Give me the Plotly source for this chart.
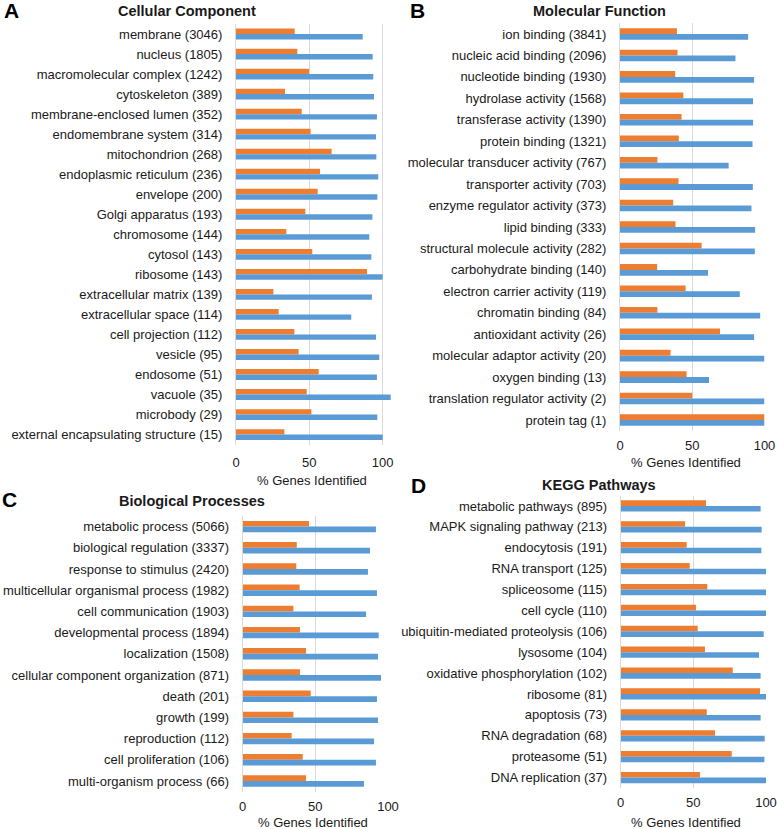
import plotly.graph_objects as go

W, H = 777, 829

# ---------------- data ----------------
cc_labels = ["membrane (3046)", "nucleus (1805)", "macromolecular complex (1242)", "cytoskeleton (389)",
             "membrane-enclosed lumen (352)", "endomembrane system (314)", "mitochondrion (268)",
             "endoplasmic reticulum (236)", "envelope (200)", "Golgi apparatus (193)", "chromosome (144)",
             "cytosol (143)", "ribosome (143)", "extracellular matrix (139)", "extracellular space (114)",
             "cell projection (112)", "vesicle (95)", "endosome (51)", "vacuole (35)", "microbody (29)",
             "external encapsulating structure (15)"]
cc_orange = [40.0, 41.8, 49.8, 33.4, 44.8, 50.9, 65.2, 57.3, 55.7, 47.3, 34.3,
             52.0, 89.3, 25.5, 29.1, 39.8, 42.7, 56.4, 48.2, 51.4, 33.0]
cc_blue = [86.4, 93.2, 93.6, 94.1, 96.1, 95.5, 95.7, 97.0, 96.4, 93.0, 90.9,
           92.3, 100.0, 92.7, 78.6, 95.5, 97.7, 96.1, 105.5, 96.4, 100.0]

mf_labels = ["ion binding (3841)", "nucleic acid binding (2096)", "nucleotide binding (1930)",
             "hydrolase activity (1568)", "transferase activity (1390)", "protein binding (1321)",
             "molecular transducer activity (767)", "transporter activity (703)",
             "enzyme regulator activity (373)", "lipid binding (333)", "structural molecule activity (282)",
             "carbohydrate binding (140)", "electron carrier activity (119)", "chromatin binding (84)",
             "antioxidant activity (26)", "molecular adaptor activity (20)", "oxygen binding (13)",
             "translation regulator activity (2)", "protein tag (1)"]
mf_orange = [39.4, 39.8, 38.2, 43.8, 42.6, 40.7, 25.9, 40.5, 36.8, 38.4, 56.5,
             25.7, 45.4, 25.9, 69.2, 35.0, 46.1, 50.0, 100.0]
mf_blue = [88.7, 79.9, 92.8, 92.1, 92.1, 91.7, 75.2, 91.9, 91.0, 93.5, 93.3,
           60.9, 82.9, 97.0, 92.8, 100.0, 61.6, 100.0, 100.0]

bp_labels = ["metabolic process (5066)", "biological regulation (3337)", "response to stimulus (2420)",
             "multicellular organismal process (1982)", "cell communication (1903)",
             "developmental process (1894)", "localization (1508)",
             "cellular component organization (871)", "death (201)", "growth (199)",
             "reproduction (112)", "cell proliferation (106)", "multi-organism process (66)"]
bp_orange = [45.6, 37.2, 36.9, 39.2, 34.9, 39.4, 43.6, 39.4, 46.8, 34.9, 33.7, 41.3, 43.6]
bp_blue = [91.7, 87.6, 86.2, 92.4, 84.9, 93.6, 93.1, 95.2, 92.4, 93.1, 90.4, 91.7, 83.5]

kg_labels = ["metabolic pathways (895)", "MAPK signaling pathway (213)", "endocytosis (191)",
             "RNA transport (125)", "spliceosome (115)", "cell cycle (110)",
             "ubiquitin-mediated proteolysis (106)", "lysosome (104)", "oxidative phosphorylation (102)",
             "ribosome (81)", "apoptosis (73)", "RNA degradation (68)", "proteasome (51)",
             "DNA replication (37)"]
kg_orange = [58.7, 44.3, 45.4, 47.5, 59.6, 51.8, 53.0, 58.0, 77.1, 95.9, 59.2, 64.9, 76.4, 54.6]
kg_blue = [96.3, 97.0, 96.8, 100.0, 100.0, 100.0, 98.4, 95.2, 96.3, 100.0, 96.3, 99.1, 98.9, 100.0]

x_ticks = [0, 50, 100]
x_title = "% Genes Identified"

# ---------------- styling ----------------
ORANGE = "#ED7D31"
BLUE = "#5B9BD5"
GRID = "#D9D9D9"
TXT = "#1a1a1a"
FONT = "Liberation Sans, Arial, sans-serif"

# panel geometry in pixels: (x_left, x_right, y_top, y_bottom)
panels = [
    dict(labels=cc_labels, o=cc_orange, b=cc_blue, box=(236, 391, 24, 444.6), xmax=105.7, xs=8,
         title="Cellular Component", tpos=(187, 11), letter="A", lpos=(2, 11), xt=(312, 480)),
    dict(labels=mf_labels, o=mf_orange, b=mf_blue, box=(620, 764.5, 23.3, 430.7), xmax=100, xs=5,
         title="Molecular Function", tpos=(599, 11), letter="B", lpos=(408, 11), xt=(686, 463)),
    dict(labels=bp_labels, o=bp_orange, b=bp_blue, box=(242.7, 388, 516, 791.6), xmax=100, xs=5,
         title="Biological Processes", tpos=(192, 501), letter="C", lpos=(0, 500), xt=(313, 822)),
    dict(labels=kg_labels, o=kg_orange, b=kg_blue, box=(620.7, 766, 495.5, 788), xmax=100, xs=5,
         title="KEGG Pathways", tpos=(599, 485), letter="D", lpos=(409, 485), xt=(686, 822)),
]

fig = go.Figure()
annotations = []
layout_axes = {}

for i, p in enumerate(panels, start=1):
    xa = "x" if i == 1 else f"x{i}"
    ya = "y" if i == 1 else f"y{i}"
    fig.add_trace(go.Bar(y=p["labels"], x=p["o"], orientation="h", marker_color=ORANGE,
                         marker_line_width=0, xaxis=xa, yaxis=ya, showlegend=False))
    fig.add_trace(go.Bar(y=p["labels"], x=p["b"], orientation="h", marker_color=BLUE,
                         marker_line_width=0, xaxis=xa, yaxis=ya, showlegend=False))
    x0, x1, y0, y1 = p["box"]
    n = len(p["labels"])
    xkey = "xaxis" if i == 1 else f"xaxis{i}"
    ykey = "yaxis" if i == 1 else f"yaxis{i}"
    layout_axes[xkey] = dict(
        domain=[x0 / W, x1 / W], anchor=ya, range=[0, p["xmax"]],
        tickvals=x_ticks, ticktext=[str(t) for t in x_ticks],
        showgrid=True, gridcolor=GRID, gridwidth=1, zeroline=False, showline=False,
        ticks="", ticklabelstandoff=p["xs"], tickfont=dict(size=13, color=TXT, family=FONT),
        fixedrange=True, automargin=False,
    )
    layout_axes[ykey] = dict(
        domain=[1 - y1 / H, 1 - y0 / H], anchor=xa, type="category",
        categoryorder="array", categoryarray=p["labels"],
        range=[n - 0.5, -0.5], showgrid=False, zeroline=False,
        showline=True, linecolor=GRID, linewidth=1,
        ticks="", ticklabelstandoff=10, tickfont=dict(size=13, color=TXT, family=FONT),
        fixedrange=True, automargin=False,
    )
    tx, ty = p["tpos"]
    annotations.append(dict(text=f"<b>{p['title']}</b>", x=tx / W, y=1 - ty / H, xref="paper",
                            yref="paper", xanchor="center", yanchor="middle", showarrow=False,
                            font=dict(size=14.5, color=TXT, family=FONT)))
    lx, ly = p["lpos"]
    annotations.append(dict(text=f"<b>{p['letter']}</b>", x=lx / W, y=1 - ly / H, xref="paper",
                            yref="paper", xanchor="left", yanchor="middle", showarrow=False,
                            font=dict(size=21, color="#000000", family=FONT)))
    ax, ay = p["xt"]
    annotations.append(dict(text=x_title, x=ax / W, y=1 - ay / H, xref="paper",
                            yref="paper", xanchor="center", yanchor="middle", showarrow=False,
                            font=dict(size=13, color=TXT, family=FONT)))

fig.update_layout(
    width=W, height=H, margin=dict(l=0, r=0, t=0, b=0, autoexpand=False),
    paper_bgcolor="white", plot_bgcolor="white",
    barmode="group", bargap=0.46, bargroupgap=0,
    font=dict(family=FONT, color=TXT, size=13),
    annotations=annotations,
    hovermode=False,
    **layout_axes,
)

fig.write_html(
    "out.html",
    config={"displayModeBar": False, "staticPlot": True},
    post_script="document.body.style.margin='0';document.body.style.overflow='hidden';",
)
